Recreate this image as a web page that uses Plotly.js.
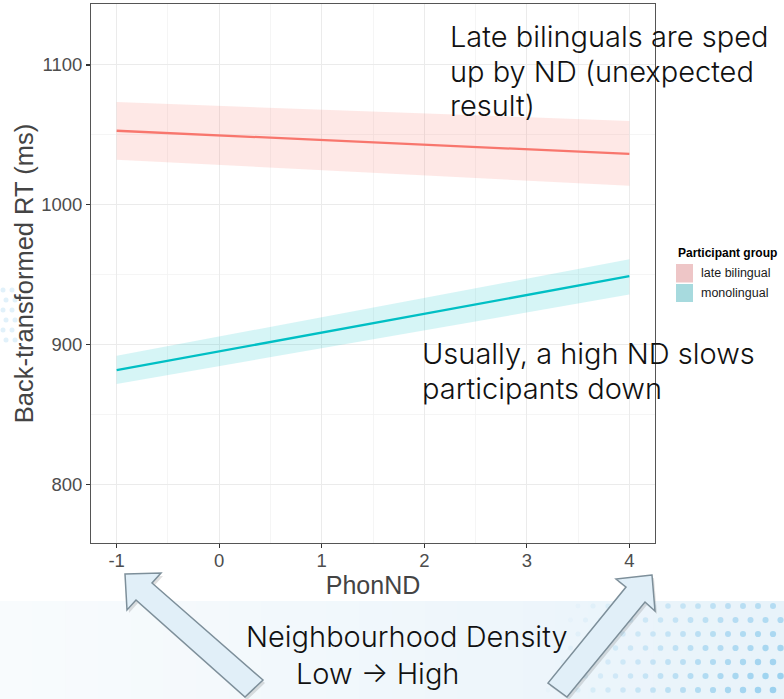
<!DOCTYPE html>
<html>
<head>
<meta charset="utf-8">
<script src="https://cdn.plot.ly/plotly-3.0.1.min.js"></script>
<style>html,body{margin:0;padding:0;background:#fff;overflow:hidden}#chart{width:784px;height:699px}</style>
</head>
<body>
<div id="chart"></div>
<script>
// ---- data ----
const phonND = [-1, 4];
const lateFit = [1052.9, 1036.3];
const lateLo  = [1032.2, 1013.5];
const lateHi  = [1073.4, 1059.9];
const monoFit = [881.6, 948.8];
const monoLo  = [871.6, 935.7];
const monoHi  = [891.9, 960.9];
const groupNames = ['late bilingual', 'monolingual'];
const xTicks = [-1, 0, 1, 2, 3, 4];
const xTickText = ['-1', '0', '1', '2', '3', '4'];
const yTicks = [800, 900, 1000, 1100];

// ---- page geometry (pixels) ----
const W = 784, H = 699;
const M = {l: 91, r: 129, t: 4, b: 156};
const PW = W - M.l - M.r, PH = H - M.t - M.b;
const X = px => (px - M.l) / PW;
const Y = py => (H - M.b - py) / PH;

const pink = '#F8766D', teal = '#00BFC4';
const axisFont = 'Liberation Sans, Arial, sans-serif';
const noteFont = 'Inter, Noto Sans, sans-serif';

const traces = [
  {x: phonND, y: lateLo, mode: 'lines', line: {width: 0, color: pink}, showlegend: false, hoverinfo: 'skip'},
  {x: phonND, y: lateHi, mode: 'lines', line: {width: 0, color: pink}, fill: 'tonexty', fillcolor: 'rgba(248,118,109,0.17)', showlegend: false, hoverinfo: 'skip'},
  {x: phonND, y: monoLo, mode: 'lines', line: {width: 0, color: teal}, showlegend: false, hoverinfo: 'skip'},
  {x: phonND, y: monoHi, mode: 'lines', line: {width: 0, color: teal}, fill: 'tonexty', fillcolor: 'rgba(0,191,196,0.16)', showlegend: false, hoverinfo: 'skip'},
  {x: phonND, y: lateFit, mode: 'lines', name: groupNames[0], line: {width: 2.3, color: pink}, showlegend: false},
  {x: phonND, y: monoFit, mode: 'lines', name: groupNames[1], line: {width: 2.3, color: teal}, showlegend: false}
];

// ---- decoration shapes ----
const shapes = [];
const strips = 24;
for (let i = 0; i < strips; i++) {
  const t = i / (strips - 1);
  const r = Math.round(248 - t * 16), g = Math.round(251 - t * 8), b = Math.round(253 - t * 3);
  shapes.push({type: 'rect', xref: 'paper', yref: 'paper', layer: 'below',
    x0: X(i * W / strips), x1: X((i + 1) * W / strips + 1), y0: Y(H), y1: Y(601),
    fillcolor: `rgb(${r},${g},${b})`, line: {width: 0}});
}
for (let j = 0; j < 8; j++) {
  for (let i = 0; i < 18; i++) {
    const cx = W + 4 - i * 15 - (j % 2) * 7.5;
    const cy = 606 + j * 14;
    const d = Math.hypot(W + 20 - cx, H + 20 - cy);
    let a = 1 - d / 270;
    if (a <= 0.03 || cy > H + 3) continue;
    a = Math.min(0.75, a * 0.9);
    const rad = 2.4 + a * 1.2;
    shapes.push({type: 'circle', xref: 'paper', yref: 'paper', layer: 'below',
      x0: X(cx - rad), x1: X(cx + rad), y0: Y(cy + rad), y1: Y(cy - rad),
      fillcolor: `rgba(130,198,235,${a.toFixed(2)})`, line: {width: 0}});
  }
}
for (let j = 0; j < 6; j++) {
  for (let i = 0; i < 2; i++) {
    const cx = 3 + i * 9 + (j % 2) * 3, cy = 290 + j * 10;
    shapes.push({type: 'circle', xref: 'paper', yref: 'paper', layer: 'below',
      x0: X(cx - 2.5), x1: X(cx + 2.5), y0: Y(cy + 2.5), y1: Y(cy - 2.5),
      fillcolor: 'rgba(170,215,240,0.35)', line: {width: 0}});
  }
}
const leftArrow  = [[125,574],[161,573],[152,583],[263,680],[245,697],[136,600],[127,610]];
const rightArrow = [[652,575],[616,579],[626,587],[548,683],[567,697],[645,602],[655,611]];
const toPath = (pts, dx, dy) => 'M ' + pts.map(p => `${X(p[0] + dx).toFixed(5)},${Y(p[1] + dy).toFixed(5)}`).join(' L ') + ' Z';
[leftArrow, rightArrow].forEach(a => {
  shapes.push({type: 'path', xref: 'paper', yref: 'paper', path: toPath(a, 2, 3), fillcolor: 'rgba(60,60,60,0.16)', line: {width: 0}});
  shapes.push({type: 'path', xref: 'paper', yref: 'paper', path: toPath(a, 0, 0), fillcolor: '#e1eff8', line: {color: '#7d8f9a', width: 1.5}});
});
shapes.push({type: 'rect', xref: 'paper', yref: 'paper', x0: X(676), x1: X(693), y0: Y(282.5), y1: Y(264), fillcolor: '#eec6c7', line: {width: 0}});
shapes.push({type: 'rect', xref: 'paper', yref: 'paper', x0: X(676), x1: X(693), y0: Y(302), y1: Y(284), fillcolor: '#a7dade', line: {width: 0}});

// ---- text ----
const note = (text, px, py) => ({text, xref: 'paper', yref: 'paper', x: X(px), y: Y(py),
  xanchor: 'left', yanchor: 'middle', showarrow: false,
  font: {family: noteFont, size: 29, color: '#111', weight: 300}});
const annotations = [
  note('Late bilinguals are sped', 448, 37),
  note('up by ND (unexpected', 448, 71.5),
  note('result)', 448, 105.5),
  note('Usually, a high ND slows', 420, 353),
  note('participants down', 420, 388),
  note('Neighbourhood Density', 244, 636),
  note('Low \u2192 High', 294, 673),
  {text: '<b>Participant group</b>', xref: 'paper', yref: 'paper', x: X(676), y: Y(252.5), xanchor: 'left', yanchor: 'middle', showarrow: false, font: {family: axisFont, size: 12, color: '#000'}},
  {text: groupNames[0], xref: 'paper', yref: 'paper', x: X(699), y: Y(273), xanchor: 'left', yanchor: 'middle', showarrow: false, font: {family: axisFont, size: 12.5, color: '#1a1a1a'}},
  {text: groupNames[1], xref: 'paper', yref: 'paper', x: X(699), y: Y(293), xanchor: 'left', yanchor: 'middle', showarrow: false, font: {family: axisFont, size: 12.5, color: '#1a1a1a'}}
];

const axisCommon = {
  showline: true, mirror: true, linecolor: '#555', linewidth: 1,
  ticks: 'outside', ticklen: 4, tickwidth: 1.2, tickcolor: '#333',
  showgrid: true, gridcolor: '#ebebeb', gridwidth: 1.1, zeroline: false,
  tickfont: {family: axisFont, size: 18.5, color: '#4d4d4d'},
  fixedrange: true
};

const layout = {
  width: W, height: H,
  margin: M,
  paper_bgcolor: 'rgba(0,0,0,0)', plot_bgcolor: '#fff',
  showlegend: false,
  xaxis: Object.assign({}, axisCommon, {
    range: [-1.25, 4.25], tickmode: 'array', tickvals: xTicks, ticktext: xTickText,
    ticklabelstandoff: -3,
    minor: {dtick: 0.5, tick0: -1, showgrid: true, gridcolor: '#f3f3f3', gridwidth: 0.8, ticks: ''},
    title: {text: 'PhonND', standoff: 0, font: {family: axisFont, size: 25, color: '#444'}}
  }),
  yaxis: Object.assign({}, axisCommon, {
    range: [757.9, 1143.6], tickmode: 'array', tickvals: yTicks,
    minor: {dtick: 50, tick0: 0, showgrid: true, gridcolor: '#f3f3f3', gridwidth: 0.8, ticks: ''},
    title: {text: 'Back-transformed RT (ms)', standoff: 0, font: {family: axisFont, size: 25.5, color: '#444'}}
  }),
  shapes, annotations
};

Plotly.newPlot('chart', traces, layout, {displayModeBar: false, staticPlot: true});
</script>
</body>
</html>
